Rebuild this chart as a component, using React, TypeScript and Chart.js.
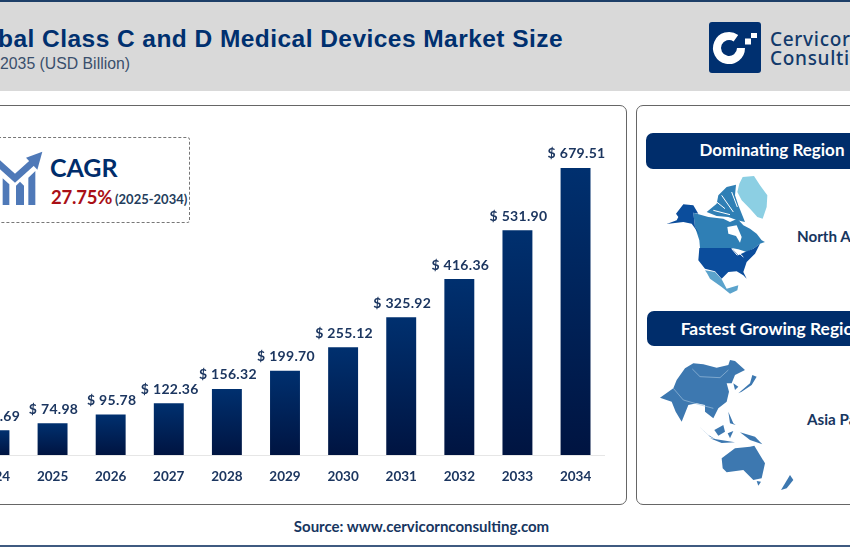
import React, { useEffect, useRef } from "react";
import { Chart, registerables } from "chart.js";

Chart.register(...registerables);

const categories = ["2024", "2025", "2026", "2027", "2028", "2029", "2030", "2031", "2032", "2033", "2034"];
const marketSize = [58.69, 74.98, 95.78, 122.36, 156.32, 199.7, 255.12, 325.92, 416.36, 531.9, 679.51];

const NAVY = "#002d6b";
const CAL = "Lato, Carlito, sans-serif";
const ARIAL = '"Liberation Sans", Arial, sans-serif';

const valueLabels = {
  id: "valueLabels",
  afterDatasetsDraw(chart: any) {
    const { ctx } = chart;
    const meta = chart.getDatasetMeta(0);
    ctx.save();
    ctx.font = `bold 14px ${CAL}`;
    ctx.fillStyle = "#1c3660";
    ctx.textAlign = "center";
    ctx.textBaseline = "middle";
    (ctx as any).letterSpacing = "0.3px";
    meta.data.forEach((bar: any, i: number) => {
      ctx.fillText(`$ ${marketSize[i].toFixed(2)}`, bar.x + 1, bar.y - 14);
    });
    ctx.restore();
  },
};

function barFill(context: any) {
  const { chart, parsed } = context;
  if (!chart.chartArea || !parsed) return NAVY;
  const y = chart.scales.y;
  const g = chart.ctx.createLinearGradient(0, y.getPixelForValue(parsed.y), 0, y.getPixelForValue(0));
  g.addColorStop(0, "#00306f");
  g.addColorStop(1, "#001441");
  return g;
}

function box(left: number, top: number, width: number, height: number, extra: React.CSSProperties = {}): React.CSSProperties {
  return { position: "absolute", left, top, width, height, boxSizing: "border-box", ...extra };
}

function label(left: number, top: number, text: string, extra: React.CSSProperties = {}) {
  return (
    <div style={{ position: "absolute", left, top, whiteSpace: "nowrap", lineHeight: 1, ...extra }}>{text}</div>
  );
}

export default function App() {
  const ref = useRef<HTMLCanvasElement>(null);

  useEffect(() => {
    const chart = new Chart(ref.current!, {
      type: "bar",
      data: {
        labels: categories,
        datasets: [
          {
            data: marketSize,
            backgroundColor: barFill,
            barPercentage: 0.515,
            categoryPercentage: 1,
          },
        ],
      },
      options: {
        responsive: false,
        devicePixelRatio: 1,
        animation: false,
        layout: { padding: { left: 25.4, right: 245.4, top: 159.3, bottom: 0 } },
        plugins: { legend: { display: false }, tooltip: { enabled: false } },
        scales: {
          x: {
            grid: { display: false, drawTicks: false },
            border: { display: true, color: "#e6e6e6", width: 1 },
            ticks: {
              color: "#1c3660",
              font: { family: CAL, size: 13.5, weight: "bold" },
              padding: 14,
              maxRotation: 0,
              autoSkip: false,
            },
            afterFit(scale: any) {
              scale.height = 95;
            },
          },
          y: { display: false, min: 0, max: 700 },
        },
      },
      plugins: [valueLabels],
    } as any);
    return () => chart.destroy();
  }, []);

  return (
    <div style={{ position: "fixed", left: 0, top: 0, width: 850, height: 550, overflow: "hidden", background: "#fff" }}>
      {/* header */}
      <div style={box(0, 0, 850, 2, { background: "#1d3f68" })} />
      <div style={box(0, 2, 850, 89, { background: "#d9d9d9" })} />
      <div style={{ position: "absolute", right: 287, top: 25, whiteSpace: "nowrap", lineHeight: 1, font: `bold 24.5px ${ARIAL}`, color: "#00306f", letterSpacing: 0.45 }}>
        Global Class C and D Medical Devices Market Size
      </div>
      <div style={{ position: "absolute", right: 720, top: 55, whiteSpace: "nowrap", lineHeight: 1, font: `15.8px ${ARIAL}`, color: "#3a4f6c" }}>
        2025 to 2035 (USD Billion)
      </div>

      {/* logo */}
      <svg style={{ position: "absolute", left: 705, top: 18 }} width={60} height={60} viewBox="0 0 60 60">
        <rect x={4} y={4} width={52} height={51} rx={3} fill="#003070" />
        <path d="M30.9 20.2 A12 12 0 1 0 36 30" fill="none" stroke="#fff" strokeWidth={8} />
        <rect x={46} y={15} width={6} height={5} fill="#fff" />
        <rect x={40} y={20.5} width={6} height={6} fill="#fff" />
      </svg>
      {label(770, 26, "Cervicorn", { font: `500 19px "Noto Sans", sans-serif`, color: "#123a6b", letterSpacing: 0.7 })}
      {label(770, 45, "Consulting", { font: `500 19px "Noto Sans", sans-serif`, color: "#123a6b", letterSpacing: 0.7 })}

      {/* panels */}
      <div style={box(-20, 105, 647, 400, { border: "1px solid #666", borderRadius: 7 })} />
      <div style={box(636, 105, 260, 400, { border: "1px solid #666", borderRadius: 7 })} />

      {/* CAGR box */}
      <div style={box(-30, 137, 220, 86, { border: "1px dashed #777", borderRadius: 3 })} />
      <svg style={{ position: "absolute", left: 0, top: 145 }} width={60} height={70} viewBox="0 0 180 210">
        <path d="M-10 50 L45 100 L100 50" fill="none" stroke="#4f79b8" strokeWidth={20} />
        <path d="M127 20 L78 38 L112 74 Z" fill="#4f79b8" />
        <path d="M8 100 L28 118 L28 180 L8 180 Z M48 180 L48 122 L60 110 L72 122 L72 180 Z M85 180 L85 98 L106 78 L106 180 Z" fill="#4f79b8" />
      </svg>
      {label(50, 152, "CAGR", { font: `bold 25px ${CAL}`, color: "#002d6b" })}
      {label(51, 186, "27.75%", { font: `bold 18.5px ${CAL}`, color: "#a90f16", letterSpacing: -0.2 })}
      {label(115, 191, "(2025-2034)", { font: `bold 13px ${CAL}`, color: "#243d5c" })}

      {/* region headers */}
      <div style={box(646, 133, 252, 36, { background: NAVY, borderRadius: 7 })} />
      <div style={box(647, 311, 251, 35, { background: NAVY, borderRadius: 7 })} />
      <div style={{ position: "absolute", left: 646, width: 252, top: 141, textAlign: "center", font: `bold 17px ${CAL}`, color: "#fff", lineHeight: 1, whiteSpace: "nowrap" }}>
        Dominating Region
      </div>
      <div style={{ position: "absolute", left: 647, width: 250, top: 320, textAlign: "center", font: `bold 17.4px ${CAL}`, color: "#fff", lineHeight: 1, whiteSpace: "nowrap" }}>
        Fastest Growing Region
      </div>
      {label(797, 227, "North America", { font: `bold 15.2px ${CAL}`, color: "#17365f" })}
      {label(807, 410, "Asia Pacific", { font: `bold 15.2px ${CAL}`, color: "#17365f" })}

      {/* North America */}
      <svg style={{ position: "absolute", left: 650, top: 172 }} width={130} height={125} viewBox="0 0 390 375">
        <path d="M278 15 L312 12 L330 40 L352 70 L350 105 L338 140 L322 135 L300 110 L275 85 L262 60 L268 35 Z" fill="#8ccfe3" />
        <path d="M170 120 L200 95 L205 70 L230 45 L258 38 L255 70 L265 100 L285 150 L262 145 L235 135 L200 132 Z" fill="#2f7fb5" />
        <path d="M200 90 L225 110 M215 70 L250 120 M190 115 L240 128 M245 60 L262 105" stroke="#fff" strokeWidth={3} fill="none" />
        <path d="M130 122 L175 135 L220 140 L240 150 L262 140 L280 160 L300 170 L320 185 L335 205 L345 210 L330 215 L310 230 L290 240 L265 232 L245 228 L150 228 L148 205 L135 165 Z" fill="#2f7fb5" />
        <path d="M232 165 L260 160 L275 195 L270 212 L258 192 L235 185 Z" fill="#fff" />
        <path d="M78 125 L100 97 L130 100 L145 125 L130 122 L135 165 L150 190 L125 155 L100 150 L50 156 L80 145 L85 135 Z" fill="#0b4d9c" />
        <path d="M148 228 L245 228 L265 250 L285 240 L310 230 L330 215 L315 245 L290 270 L280 300 L290 320 L280 310 L260 298 L235 300 L215 320 L195 298 L165 290 L145 265 Z" fill="#0b4d9c" />
        <path d="M245 230 L262 250 M262 238 L280 255" stroke="#fff" strokeWidth={3} fill="none" />
        <path d="M165 295 L195 300 L215 322 L230 350 L265 340 L262 355 L240 365 L215 345 L180 320 L172 305 Z" fill="#5ba3cc" />
      </svg>

      {/* Asia Pacific */}
      <svg style={{ position: "absolute", left: 655, top: 355 }} width={145} height={140} viewBox="0 0 435 420">
        <g fill="#3d78b0">
          <path d="M15 128 L55 100 L65 75 L90 40 L115 25 L145 28 L185 38 L220 30 L225 15 L240 18 L270 45 L240 60 L230 85 L215 85 L222 110 L215 140 L190 160 L175 190 L150 170 L150 150 L125 145 L100 150 L80 200 L62 170 L50 140 Z" />
          <path d="M250 115 L285 85 L292 60 L305 65 L290 90 L260 110 Z" />
          <path d="M235 85 L250 95 L240 105 Z" />
          <path d="M130 212 L165 245 L190 258 L160 240 Z" />
          <path d="M165 250 L240 262 L200 264 Z" />
          <path d="M178 225 L205 210 L210 230 L190 242 Z" />
          <path d="M218 235 L235 228 L225 250 Z" />
          <path d="M255 232 L300 245 L322 268 L285 255 Z" />
          <path d="M220 170 L235 205 L242 210 L225 205 Z" />
          <path d="M200 310 L240 280 L285 275 L298 272 L330 325 L320 370 L295 375 L265 345 L215 352 L203 340 Z" />
          <path d="M305 378 L318 380 L310 392 Z" />
          <path d="M378 405 L405 360 L415 375 L395 400 Z" />
        </g>
        <path d="M112 42 L135 65 L195 68 L220 45 M55 100 L85 135 L130 148 L175 160" fill="none" stroke="#9fbfdc" strokeWidth={2} />
      </svg>

      {/* footer */}
      <div style={{ position: "absolute", left: 0, width: 843, top: 519, textAlign: "center", font: `bold 15px ${CAL}`, color: "#17365f", lineHeight: 1, whiteSpace: "nowrap" }}>
        Source: www.cervicornconsulting.com
      </div>
      <div style={box(0, 545, 850, 2, { background: "#3f5a80" })} />

      <canvas ref={ref} width={910} height={550} style={{ position: "absolute", left: -60, top: 0, width: 910, height: 550 }} />
    </div>
  );
}
